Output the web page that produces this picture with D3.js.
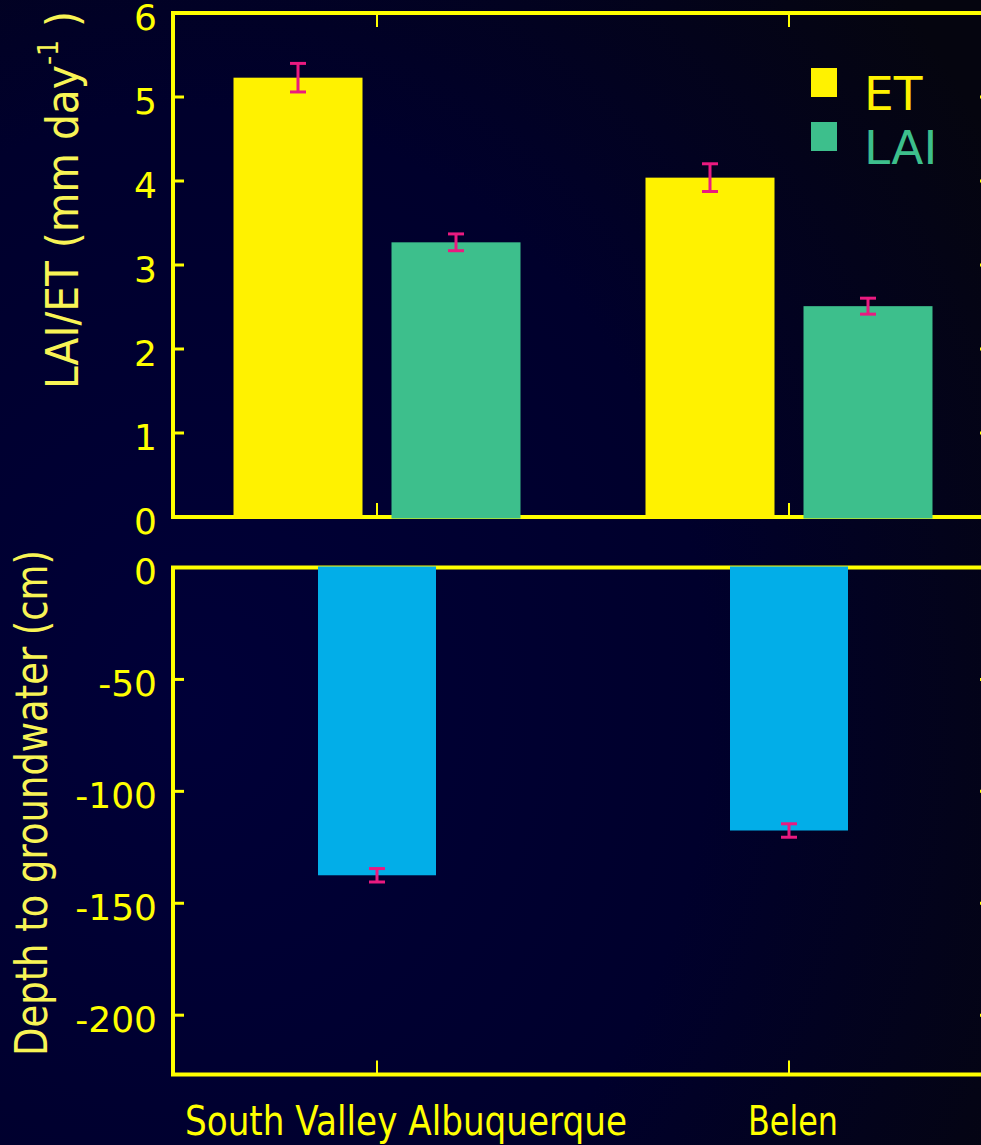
<!DOCTYPE html>
<html>
<head>
<meta charset="utf-8">
<script src="https://cdn.jsdelivr.net/npm/d3@7"></script>
<style>
  html, body { margin: 0; padding: 0; background: #000022; }
  svg { display: block; }
  text { font-family: "Comic Sans MS", "DejaVu Sans", sans-serif; }
</style>
</head>
<body>
<svg id="chart" width="981" height="1145"></svg>
<script>
// Sites along the Rio Grande
const sites = ["South Valley Albuquerque", "Belen"];

// Upper panel: evapotranspiration and leaf area index
const seriesNames = ["ET", "LAI"];
const etValues = [5.23, 4.04];
const etErrors = [0.17, 0.165];
const laiValues = [3.27, 2.51];
const laiErrors = [0.10, 0.095];
const upperTicks = [0, 1, 2, 3, 4, 5, 6];

// Lower panel: depth to groundwater (cm)
const depthValues = [-137.5, -117.5];
const depthErrors = [3, 3];
const lowerTicks = [0, -50, -100, -150, -200];

const colors = { ET: "#fff200", LAI: "#3dbf8c", depth: "#02aee8", err: "#ea1a80" };
const axisColor = "#ffff00";

const svg = d3.select("#chart");
const W = 981, H = 1145;

// background
const defs = svg.append("defs");
const bg = defs.append("radialGradient").attr("id", "bg")
  .attr("cx", "0.2").attr("cy", "0.62").attr("r", "0.95");
bg.append("stop").attr("offset", "0").attr("stop-color", "#000038");
bg.append("stop").attr("offset", "0.55").attr("stop-color", "#00002c");
bg.append("stop").attr("offset", "1").attr("stop-color", "#05050f");
svg.append("rect").attr("width", W).attr("height", H).attr("fill", "url(#bg)");

const left = 173, right = 991;
const x = d3.scalePoint().domain(sites).range([171, 995]).padding(0.5);
const xs = d3.scaleBand().domain(seriesNames).range([-143.5, 143.5]).paddingInner(0.1835);

const yTop = d3.scaleLinear().domain([0, 6]).range([517, 13]);
const yBot = d3.scaleLinear().domain([-226.5, 0]).range([1074.5, 567.5]);

function frame(y, ticks, top, bottom) {
  const g = svg.append("g");
  g.append("rect").attr("x", left).attr("y", top).attr("width", right - left).attr("height", bottom - top)
    .attr("fill", "none").attr("stroke", axisColor).attr("stroke-width", 4);
  // y ticks inward on both sides
  ticks.forEach(t => {
    g.append("line").attr("x1", left).attr("x2", left + 11).attr("y1", y(t)).attr("y2", y(t))
      .attr("stroke", axisColor).attr("stroke-width", 3);
    g.append("line").attr("x1", right).attr("x2", right - 11).attr("y1", y(t)).attr("y2", y(t))
      .attr("stroke", axisColor).attr("stroke-width", 3);
  });
  // category ticks inward on top and bottom
  sites.forEach(s => {
    g.append("line").attr("x1", x(s)).attr("x2", x(s)).attr("y1", top).attr("y2", top + 14)
      .attr("stroke", axisColor).attr("stroke-width", 2);
    g.append("line").attr("x1", x(s)).attr("x2", x(s)).attr("y1", bottom).attr("y2", bottom - 14)
      .attr("stroke", axisColor).attr("stroke-width", 2);
  });
  // tick labels
  g.selectAll("text.tick").data(ticks).join("text")
    .attr("x", left - 16).attr("y", d => y(d) + 4).attr("dy", "0.36em")
    .attr("text-anchor", "end").attr("fill", axisColor)
    .attr("font-size", 36)
    .text(d => d3.format("d")(d).replace("−", "-"));
  return g;
}

frame(yTop, upperTicks, 13, 517);
frame(yBot, lowerTicks, 567.5, 1074.5);

// error bar helper
function errorBar(cx, yv, lo, hi) {
  const g = svg.append("g").attr("stroke", colors.err).attr("stroke-width", 3);
  g.append("line").attr("x1", cx).attr("x2", cx).attr("y1", yv(lo)).attr("y2", yv(hi));
  g.append("line").attr("x1", cx - 8).attr("x2", cx + 8).attr("y1", yv(lo)).attr("y2", yv(lo));
  g.append("line").attr("x1", cx - 8).attr("x2", cx + 8).attr("y1", yv(hi)).attr("y2", yv(hi));
}

// upper bars
const upper = [
  { name: "ET", values: etValues, errors: etErrors },
  { name: "LAI", values: laiValues, errors: laiErrors }
];
upper.forEach(s => {
  sites.forEach((site, i) => {
    const bx = x(site) + xs(s.name);
    svg.append("rect")
      .attr("x", bx).attr("width", xs.bandwidth())
      .attr("y", yTop(s.values[i])).attr("height", yTop(0) - yTop(s.values[i]) + 1.5)
      .attr("fill", colors[s.name]);
  });
});
upper.forEach(s => {
  sites.forEach((site, i) => {
    const cx = x(site) + xs(s.name) + xs.bandwidth() / 2;
    errorBar(cx, yTop, s.values[i] - s.errors[i], s.values[i] + s.errors[i]);
  });
});

// lower bars
const barW = 118;
sites.forEach((site, i) => {
  svg.append("rect")
    .attr("x", x(site) - barW / 2).attr("width", barW)
    .attr("y", yBot(0) - 1).attr("height", yBot(depthValues[i]) - yBot(0) + 1)
    .attr("fill", colors.depth);
});
sites.forEach((site, i) => {
  errorBar(x(site), yBot, depthValues[i] - depthErrors[i], depthValues[i] + depthErrors[i]);
});

// legend
const legend = svg.append("g");
seriesNames.forEach((n, i) => {
  legend.append("rect").attr("x", 811).attr("y", 68 + i * 54).attr("width", 26).attr("height", 29)
    .attr("fill", colors[n]);
  legend.append("text").attr("x", 864).attr("y", 110 + i * 54)
    .attr("font-size", 47).attr("fill", colors[n]).text(n);
});

// category labels
const labelShift = [29, 4];
const labelLen = [442, 90];
sites.forEach((site, i) => {
  svg.append("text")
    .attr("x", x(site) + labelShift[i] - labelLen[i] / 2).attr("y", 1135)
    .attr("font-size", 40).attr("fill", axisColor)
    .attr("textLength", labelLen[i]).attr("lengthAdjust", "spacingAndGlyphs")
    .text(site);
});

// axis titles
const t1 = svg.append("text")
  .attr("transform", "translate(78,389) rotate(-90)")
  .attr("font-size", 45).attr("fill", "#f8f455")
  .attr("textLength", 378).attr("lengthAdjust", "spacingAndGlyphs");
t1.append("tspan").text("LAI/ET (mm day");
t1.append("tspan").attr("dy", -20).attr("font-size", 28).text("-1");
t1.append("tspan").attr("dy", 20).text(" )");

svg.append("text")
  .attr("transform", "translate(47,1056) rotate(-90)")
  .attr("font-size", 45).attr("fill", "#f8f455")
  .attr("textLength", 506).attr("lengthAdjust", "spacingAndGlyphs")
  .text("Depth to groundwater (cm)");
</script>
</body>
</html>
